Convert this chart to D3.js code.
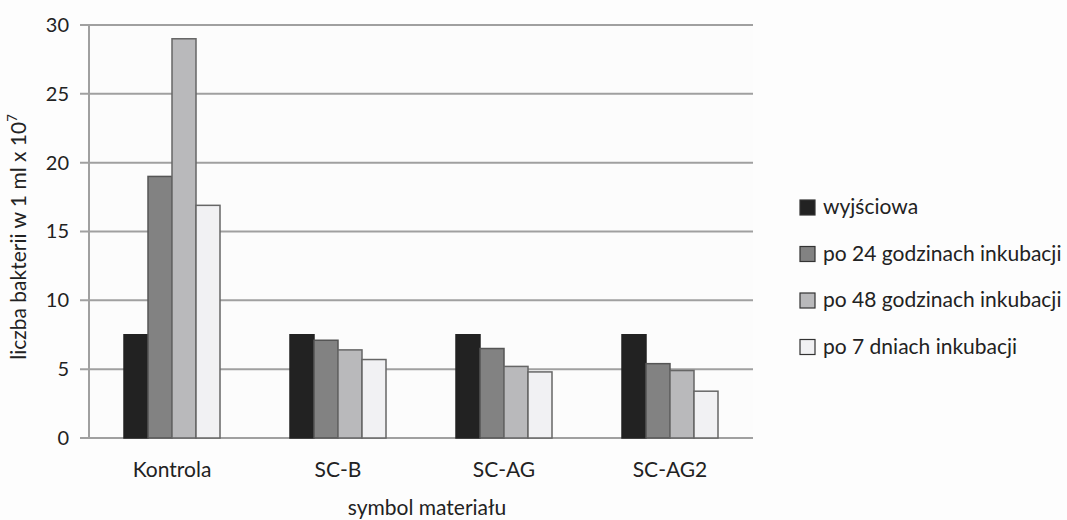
<!DOCTYPE html>
<html><head><meta charset="utf-8">
<script src="https://cdn.jsdelivr.net/npm/d3@7"></script>
<style>
body{margin:0;background:#fdfdfd;}
text{font-family:Lato,"Open Sans",sans-serif;fill:#222;}
</style></head><body>
<svg id="c" width="1067" height="520"></svg>
<script>
const categories = ["Kontrola", "SC-B", "SC-AG", "SC-AG2"];
const seriesNames = ["wyjściowa", "po 24 godzinach inkubacji", "po 48 godzinach inkubacji", "po 7 dniach inkubacji"];
const wyjsciowa = [7.5, 7.5, 7.5, 7.5];
const po24h = [19, 7.1, 6.5, 5.4];
const po48h = [29, 6.4, 5.2, 4.9];
const po7d = [16.9, 5.7, 4.8, 3.4];
const yTicks = [0, 5, 10, 15, 20, 25, 30];
const colors = ["#222222", "#828282", "#b9b9bb", "#f1f1f3"];
const strokes = ["#222222", "#555555", "#666666", "#666666"];

const series = [wyjsciowa, po24h, po48h, po7d];
const svg = d3.select("#c");
const m = {l: 89, r: 753, t: 25, b: 438};
const FF = 'Lato,"Open Sans",sans-serif';

svg.append("rect").attr("x", m.l).attr("y", m.t).attr("width", m.r - m.l).attr("height", m.b - m.t).attr("fill", "#fcfcfc");

const x = d3.scaleBand().domain(categories).range([m.l, m.r]);
const xs = d3.scaleBand().domain(d3.range(series.length)).range([0, 96]);
const y = d3.scaleLinear().domain([0, 30]).range([m.b, m.t]);

// gridlines
svg.append("g").selectAll("line").data(yTicks).join("line")
  .attr("x1", m.l - 9).attr("x2", m.r)
  .attr("y1", d => y(d)).attr("y2", d => y(d))
  .attr("stroke", "#a0a0a0").attr("stroke-width", 2);
// y axis line
svg.append("line").attr("x1", m.l).attr("x2", m.l).attr("y1", m.t).attr("y2", m.b)
  .attr("stroke", "#a0a0a0").attr("stroke-width", 2);

// y tick labels
const yAxis = d3.axisLeft(y).tickValues(yTicks).tickSize(0).tickPadding(20);
const ga = svg.append("g").attr("transform", `translate(${m.l},0)`).call(yAxis);
ga.select(".domain").remove();
ga.selectAll("text").attr("font-size", 20).style("font-family", FF).attr("fill", "#222");

// bars
series.forEach((vals, si) => {
  svg.append("g").selectAll("rect").data(vals).join("rect")
    .attr("x", (d, i) => x(categories[i]) + x.bandwidth() / 2 - 48 + xs(si))
    .attr("width", xs.bandwidth())
    .attr("y", d => y(d))
    .attr("height", d => y(0) - y(d))
    .attr("fill", colors[si])
    .attr("stroke", strokes[si]).attr("stroke-width", 1.5);
});

// x labels
const gx = svg.append("g").attr("transform", `translate(0,${m.b})`)
  .call(d3.axisBottom(x).tickSize(0).tickPadding(24));
gx.select(".domain").remove();
gx.selectAll("text").attr("font-size", 21).style("font-family", FF).attr("fill", "#222");

// axis titles
svg.append("text").attr("x", 427).attr("y", 515).attr("text-anchor", "middle").attr("font-size", 21)
  .text("symbol materiału");
const yt = svg.append("text").attr("transform", "translate(26,237) rotate(-90)").attr("text-anchor", "middle").attr("font-size", 21);
yt.append("tspan").text("liczba bakterii w 1 ml x 10");
yt.append("tspan").attr("dy", -9).attr("font-size", 13).text("7");

// legend
const lg = svg.append("g");
seriesNames.forEach((n, i) => {
  const cy = 207 + i * 46.5;
  lg.append("rect").attr("x", 800).attr("y", cy - 7).attr("width", 15).attr("height", 15)
    .attr("fill", colors[i]).attr("stroke", "#333").attr("stroke-width", 1.2);
  lg.append("text").attr("x", 823).attr("y", cy).attr("dy", "0.35em").attr("font-size", 21).text(n);
});
</script>
</body></html>
